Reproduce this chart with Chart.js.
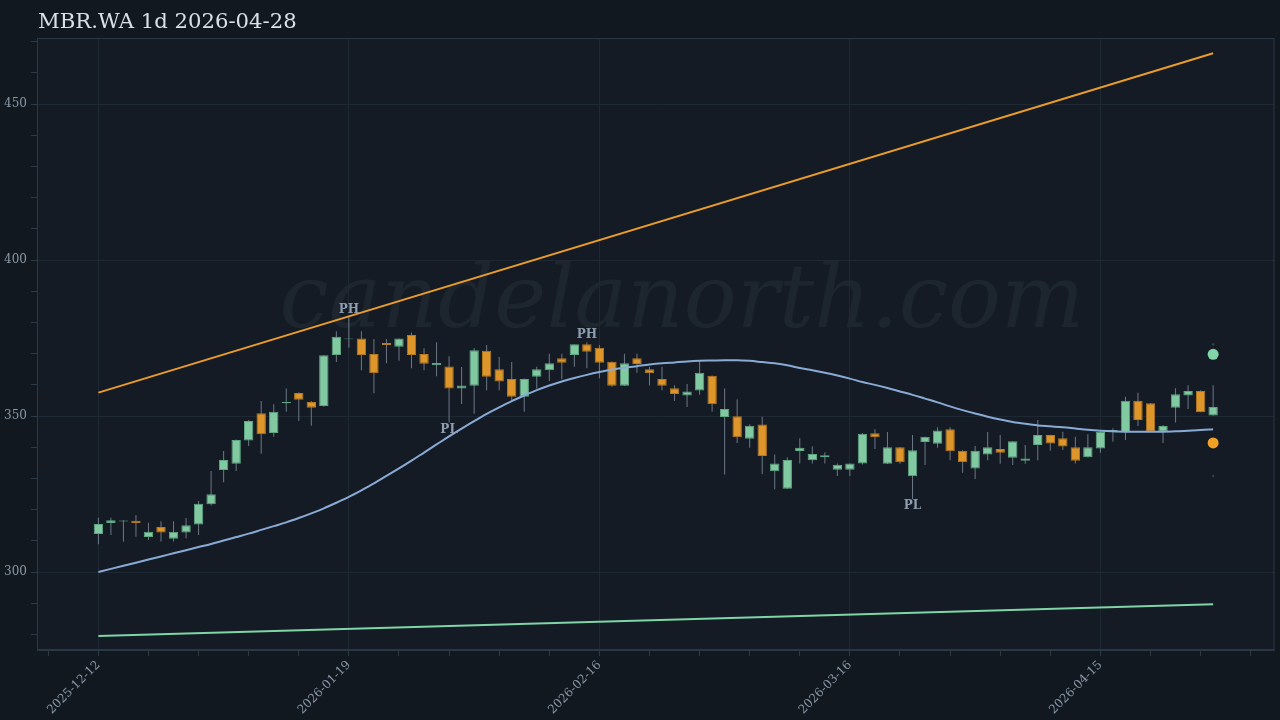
<!DOCTYPE html>
<html>
<head>
<meta charset="utf-8">
<script src="https://cdn.jsdelivr.net/npm/chart.js@4.4.1/dist/chart.umd.min.js"></script>
<style>
  html, body { margin: 0; padding: 0; background: #111820; }
  #wrap { position: relative; width: 1280px; height: 720px; }
  #grafico { position: absolute; left: 0; top: 0; }
  #titulo {
    position: absolute; left: 38px; top: 11px;
    font-family: "DejaVu Serif", serif; font-size: 21.2px; line-height: 20px;
    color: #d9e0e8; white-space: nowrap;
  }
</style>
</head>
<body>
<div id="wrap">
  <canvas id="grafico" width="1280" height="720"></canvas>
  <div id="titulo">MBR.WA 1d 2026-04-28</div>
</div>
<script>
// candles, index 0 = 2025-12-12 ... 89 = 2026-04-28
const opens = [
  312.2, 315.7, 316.2, 316.4, 311.2, 314.4, 310.7, 312.7, 315.2, 321.7,
  332.7, 334.7, 342.2, 350.9, 344.6, 354.1, 357.4, 354.5, 353.2, 369.6,
  374.6, 374.9, 369.9, 373.4, 372.2, 376.0, 369.9, 366.3, 365.9, 358.8,
  359.7, 370.9, 365.0, 361.9, 356.2, 362.6, 364.7, 368.5, 369.6, 373.0,
  371.9, 367.4, 359.7, 368.5, 365.0, 361.9, 358.9, 356.6, 358.2, 362.9,
  349.7, 349.9, 342.7, 347.3, 332.3, 326.7, 338.8, 335.8, 336.8, 332.8,
  332.8, 334.8, 344.5, 334.7, 340.0, 330.7, 341.7, 341.1, 345.8, 338.9,
  333.2, 337.7, 339.4, 336.6, 335.7, 340.7, 343.9, 342.9, 340.0, 336.8,
  339.6, 344.8, 344.8, 354.9, 354.1, 345.0, 352.7, 356.6, 358.0, 350.2
];
const highs = [
  317.4, 317.4, 316.7, 318.3, 315.8, 316.3, 316.3, 317.3, 322.8, 332.4,
  338.8, 342.5, 348.7, 354.8, 353.8, 358.8, 357.6, 354.8, 369.6, 377.2,
  381.8, 377.2, 374.7, 374.7, 374.9, 376.8, 371.7, 373.7, 369.2, 365.7,
  371.8, 372.8, 368.9, 367.3, 362.0, 365.8, 370.0, 370.0, 373.0, 373.7,
  372.8, 367.5, 370.0, 370.0, 365.8, 365.8, 359.9, 360.3, 367.7, 363.0,
  358.8, 355.4, 347.4, 349.8, 337.7, 336.8, 342.9, 340.3, 338.4, 334.8,
  334.8, 344.6, 345.8, 344.9, 340.1, 343.9, 343.4, 346.4, 346.4, 339.0,
  340.4, 344.9, 343.9, 341.9, 340.7, 348.7, 344.0, 345.0, 343.4, 344.2,
  345.0, 346.1, 356.2, 357.5, 354.2, 347.1, 358.9, 359.9, 358.3, 359.9
];
const lows = [
  308.9, 311.9, 309.7, 311.3, 310.3, 309.8, 309.8, 310.8, 311.9, 321.3,
  328.8, 332.4, 340.4, 337.9, 343.4, 351.4, 348.4, 346.9, 353.0, 367.3,
  371.9, 364.7, 357.3, 366.9, 367.7, 365.3, 364.7, 362.8, 347.9, 353.9,
  350.7, 358.3, 358.3, 354.8, 351.4, 358.8, 361.2, 361.8, 365.8, 365.3,
  362.1, 359.4, 359.6, 363.9, 359.8, 358.3, 354.8, 352.9, 356.8, 351.4,
  331.3, 341.4, 339.8, 331.4, 326.5, 326.6, 334.8, 334.8, 334.8, 330.8,
  330.8, 334.5, 339.4, 334.6, 334.7, 323.3, 334.3, 339.8, 335.8, 331.8,
  329.8, 335.8, 334.7, 334.3, 334.7, 335.8, 338.9, 339.1, 334.8, 336.7,
  338.2, 341.8, 342.3, 346.8, 345.0, 341.4, 347.9, 352.3, 351.2, 350.1
];
const closes = [
  315.4, 316.6, 316.5, 315.7, 312.9, 312.7, 312.9, 315.0, 321.9, 324.9,
  335.9, 342.3, 348.4, 344.2, 351.4, 354.5, 355.2, 352.7, 369.5, 375.4,
  374.9, 369.6, 363.7, 372.8, 374.9, 369.6, 366.8, 367.0, 358.8, 359.8,
  371.1, 362.6, 361.1, 356.2, 361.9, 365.0, 366.9, 367.1, 373.0, 370.6,
  367.1, 359.7, 366.9, 366.7, 363.7, 359.7, 357.1, 357.9, 363.9, 353.8,
  352.3, 343.2, 346.9, 337.2, 334.8, 335.9, 339.8, 337.8, 337.4, 334.4,
  334.8, 344.3, 343.2, 340.0, 335.2, 339.0, 343.4, 345.4, 338.7, 335.2,
  338.9, 340.0, 338.2, 341.9, 336.4, 343.9, 341.2, 340.2, 335.7, 340.0,
  345.0, 345.5, 354.9, 348.7, 345.0, 346.8, 357.0, 358.0, 351.2, 352.9
];

// smooth average curve, one value per candle
const media = [
  300.0, 301.0, 302.0, 303.0, 304.0, 305.0, 306.0, 307.0, 308.0, 309.0,
  310.1, 311.2, 312.3, 313.5, 314.7, 315.9, 317.3, 318.8, 320.4, 322.2,
  324.1, 326.2, 328.4, 330.8, 333.2, 335.7, 338.3, 340.9, 343.5, 346.0,
  348.4, 350.7, 352.8, 354.8, 356.6, 358.3, 359.8, 361.1, 362.2, 363.2,
  364.1, 364.9, 365.5, 366.0, 366.5, 366.9, 367.2, 367.5, 367.7, 367.8,
  367.9, 367.9, 367.7, 367.3, 366.9, 366.3, 365.4, 364.7, 363.9, 363.0,
  362.0, 360.9, 360.0, 359.0, 357.9, 356.8, 355.6, 354.4, 353.1, 351.9,
  350.8, 349.8, 348.9, 348.1, 347.5, 347.0, 346.7, 346.4, 346.0, 345.6,
  345.3, 345.1, 345.0, 345.0, 345.0, 345.0, 345.1, 345.3, 345.5, 345.8
];

// channel lines (start and end)
const canalIdx = [0, 89];
const canalTopo = [357.5, 466.3];
const canalBase = [279.5, 289.7];

// signals on the last candle
const sinalIdx = 89;
const sinalAlta = 369.8;
const sinalBaixa = 341.4;
const sinalMarcas = [373.0, 330.8];

// pivot labels
const pivotIdx = [20, 28, 39, 65];
const pivotTipo = ["PH", "PL", "PH", "PL"];

// x axis labels
const rotuloIdx = [0, 20, 40, 60, 80];
const rotuloData = ["2025-12-12", "2026-01-19", "2026-02-16", "2026-03-16", "2026-04-15"];

const verde = "#80c9a1";
const verdeBorda = "#5fa882";
const laranja = "#de962b";
const laranjaBorda = "#b87a20";

const corpos = opens.map((o, i) => ({ x: i, y: [o, closes[i]] }));
const pavios = lows.map((l, i) => ({ x: i, y: [l, highs[i]] }));
const corCorpo = opens.map((o, i) => closes[i] >= o ? verde : laranja);
const corBorda = opens.map((o, i) => closes[i] >= o ? verdeBorda : laranjaBorda);

const fundo = {
  id: "fundo",
  beforeDraw(chart) {
    const { ctx, chartArea: a } = chart;
    ctx.save();
    ctx.fillStyle = "#141b24";
    ctx.fillRect(a.left, a.top, a.right - a.left, a.bottom - a.top);
    ctx.font = 'italic 88px "DejaVu Serif"';
    ctx.fillStyle = "rgba(150,170,190,0.07)";
    ctx.textAlign = "center";
    ctx.textBaseline = "alphabetic";
    ctx.fillText("candelanorth.com", a.left + 645, a.top + 289);
    ctx.restore();
  },
  afterDatasetsDraw(chart) {
    const { ctx, chartArea: a, scales } = chart;
    ctx.save();
    ctx.font = 'bold 12px "DejaVu Serif"';
    ctx.fillStyle = "#8e9db0";
    ctx.textAlign = "center";
    pivotIdx.forEach((idx, k) => {
      const x = scales.x.getPixelForValue(idx);
      if (pivotTipo[k] === "PH") {
        ctx.textBaseline = "bottom";
        ctx.fillText(pivotTipo[k], x, scales.y.getPixelForValue(highs[idx]) - 1);
      } else {
        ctx.textBaseline = "top";
        ctx.fillText(pivotTipo[k], x, scales.y.getPixelForValue(lows[idx]) + 1);
      }
    });
    ctx.strokeStyle = "#2a3845";
    ctx.lineWidth = 1;
    ctx.strokeRect(a.left + 0.5, a.top + 0.5, a.right - a.left - 1, a.bottom - a.top - 1);
    ctx.restore();
  }
};

const ctx = document.getElementById("grafico");

new Chart(ctx, {
  type: "bar",
  data: {
    datasets: [
      {
        type: "line",
        data: canalIdx.map((x, i) => ({ x: x, y: canalTopo[i] })),
        borderColor: "#e99c2b",
        borderWidth: 2,
        pointRadius: 0,
        order: 0
      },
      {
        type: "line",
        data: canalIdx.map((x, i) => ({ x: x, y: canalBase[i] })),
        borderColor: "#80d4a8",
        borderWidth: 2,
        pointRadius: 0,
        order: 0
      },
      {
        type: "line",
        data: media.map((v, i) => ({ x: i, y: v })),
        borderColor: "#8aaad6",
        borderWidth: 2,
        pointRadius: 0,
        cubicInterpolationMode: "monotone",
        order: 0
      },
      {
        type: "line",
        data: [{ x: sinalIdx, y: sinalAlta }],
        showLine: false,
        pointRadius: 5.5,
        pointBackgroundColor: "#80d6a8",
        pointBorderWidth: 0,
        order: 0
      },
      {
        type: "line",
        data: [{ x: sinalIdx, y: sinalBaixa }],
        showLine: false,
        pointRadius: 5.5,
        pointBackgroundColor: "#f2a125",
        pointBorderWidth: 0,
        order: 0
      },
      {
        type: "line",
        data: sinalMarcas.map(v => ({ x: sinalIdx, y: v })),
        showLine: false,
        pointRadius: 1.2,
        pointBackgroundColor: "#34424c",
        pointBorderWidth: 0,
        order: 0
      },
      {
        data: corpos,
        backgroundColor: corCorpo,
        borderColor: corBorda,
        borderWidth: 1,
        borderSkipped: false,
        grouped: false,
        barPercentage: 0.75,
        categoryPercentage: 1,
        order: 1
      },
      {
        data: pavios,
        backgroundColor: "rgba(145,160,178,0.7)",
        borderWidth: 0,
        grouped: false,
        barPercentage: 0.1,
        maxBarThickness: 1.2,
        order: 2
      }
    ]
  },
  options: {
    responsive: false,
    animation: false,
    layout: { padding: { top: 38, right: 0, left: 0, bottom: 0 } },
    plugins: {
      legend: { display: false },
      tooltip: { enabled: false },
      title: { display: false }
    },
    scales: {
      x: {
        type: "linear",
        min: -4.9,
        max: 93.9,
        offset: false,
        afterBuildTicks(scale) {
          const t = [];
          for (let v = -4; v <= 92; v += 4) t.push({ value: v });
          scale.ticks = t;
        },
        afterFit(scale) { scale.height = 70; },
        border: { display: true, color: "#2a3845" },
        grid: {
          offset: false,
          color: c => (c.tick && rotuloIdx.includes(c.tick.value)) ? "#1d2832" : "rgba(0,0,0,0)",
          tickColor: "#2c3a47",
          tickLength: 6
        },
        ticks: {
          autoSkip: false,
          minRotation: 45,
          maxRotation: 45,
          padding: 2,
          color: "#8a97a6",
          font: { family: "DejaVu Serif", size: 12 },
          callback: v => {
            const k = rotuloIdx.indexOf(v);
            return k >= 0 ? rotuloData[k] : "";
          }
        }
      },
      y: {
        type: "linear",
        min: 275,
        max: 471.2,
        afterBuildTicks(scale) {
          const t = [];
          for (let v = 280; v <= 470; v += 10) t.push({ value: v });
          scale.ticks = t;
        },
        afterFit(scale) { scale.width = 37; },
        border: { display: true, color: "#2a3845" },
        grid: {
          color: c => (c.tick && c.tick.value % 50 === 0) ? "#1d2832" : "rgba(0,0,0,0)",
          tickColor: "#2c3a47",
          tickLength: 6
        },
        ticks: {
          autoSkip: false,
          padding: 4,
          color: "#8a97a6",
          font: { family: "DejaVu Serif", size: 12 },
          callback: v => v % 50 === 0 ? String(v) : ""
        }
      }
    }
  },
  plugins: [fundo]
});
</script>
</body>
</html>
